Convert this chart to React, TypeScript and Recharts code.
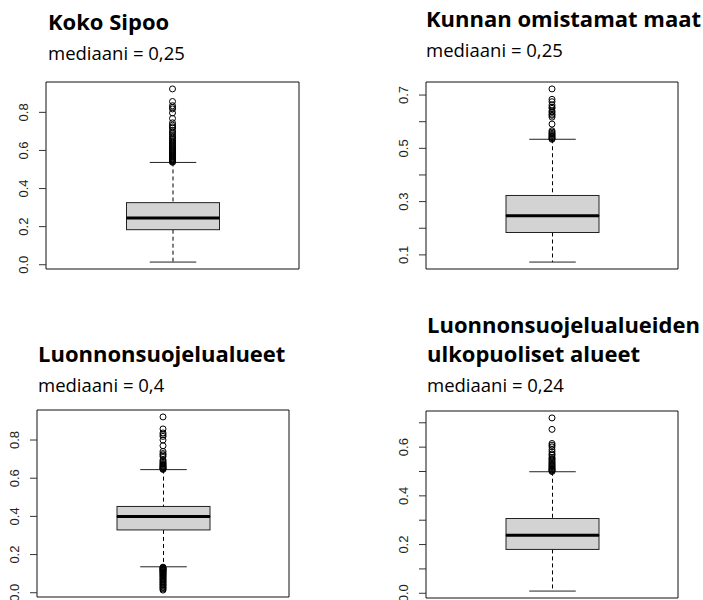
import React from "react";
import {
  Bar,
  ComposedChart,
  ReferenceArea,
  Scatter,
  XAxis,
  YAxis,
} from "recharts";

// panel texts
const titles = [
  ["Koko Sipoo"],
  ["Kunnan omistamat maat"],
  ["Luonnonsuojelualueet"],
  ["Luonnonsuojelualueiden", "ulkopuoliset alueet"],
];
const medianTexts = ["mediaani = 0,25", "mediaani = 0,25", "mediaani = 0,4", "mediaani = 0,24"];

// box statistics per panel
const lowerWhisker = [0.014, 0.073, 0.136, 0.009];
const lowerQuartile = [0.184, 0.184, 0.329, 0.18];
const medians = [0.246, 0.247, 0.399, 0.238];
const upperQuartile = [0.326, 0.323, 0.452, 0.307];
const upperWhisker = [0.537, 0.534, 0.645, 0.499];

// outliers per panel
const outliersKoko = [
  0.538, 0.541, 0.545, 0.548, 0.552, 0.556, 0.559, 0.563, 0.567, 0.571, 0.575,
  0.579, 0.583, 0.588, 0.592, 0.597, 0.601, 0.606, 0.611, 0.616, 0.621, 0.627,
  0.632, 0.638, 0.644, 0.65, 0.657, 0.664, 0.671, 0.679, 0.688, 0.697, 0.705,
  0.718, 0.724, 0.733, 0.745, 0.768, 0.797, 0.818, 0.826, 0.835, 0.857, 0.923,
];
const outliersKunta = [
  0.534, 0.537, 0.54, 0.544, 0.548, 0.552, 0.556, 0.561, 0.566, 0.591, 0.617,
  0.624, 0.628, 0.635, 0.64, 0.65, 0.655, 0.663, 0.675, 0.684, 0.723,
];
const outliersSuojelu = [
  0.646, 0.649, 0.652, 0.655, 0.659, 0.663, 0.667, 0.672, 0.677, 0.683, 0.689,
  0.696, 0.714, 0.722, 0.729, 0.74, 0.77, 0.8, 0.819, 0.828, 0.837, 0.858, 0.921,
  0.134, 0.131, 0.128, 0.126, 0.122, 0.119, 0.117, 0.113, 0.11, 0.106, 0.103,
  0.098, 0.095, 0.09, 0.086, 0.081, 0.075, 0.071, 0.066, 0.06, 0.056, 0.051,
  0.045, 0.041, 0.036, 0.03, 0.026, 0.02, 0.014,
];
const outliersMuut = [
  0.5, 0.503, 0.506, 0.509, 0.512, 0.516, 0.52, 0.524, 0.528, 0.533, 0.538,
  0.543, 0.548, 0.553, 0.558, 0.567, 0.572, 0.581, 0.59, 0.601, 0.608, 0.615,
  0.673, 0.72,
];
const outliers = [outliersKoko, outliersKunta, outliersSuojelu, outliersMuut];

// y axis ticks and which of them get a label
const yTicks = [
  [0, 0.2, 0.4, 0.6, 0.8],
  [0.1, 0.2, 0.3, 0.4, 0.5, 0.6, 0.7],
  [0, 0.2, 0.4, 0.6, 0.8],
  [0, 0.1, 0.2, 0.3, 0.4, 0.5, 0.6, 0.7],
];
const yTickLabels = [
  ["0.0", "0.2", "0.4", "0.6", "0.8"],
  ["0.1", "", "0.3", "", "0.5", "", "0.7"],
  ["0.0", "0.2", "0.4", "0.6", "0.8"],
  ["0.0", "", "0.2", "", "0.4", "", "0.6", ""],
];

// layout (frame of each plot region, title position)
const frames = [
  { left: 46, top: 82, w: 253, h: 187, tx: 48, ty: 30 },
  { left: 426, top: 82, w: 252, h: 187, tx: 426, ty: 27 },
  { left: 37, top: 410, w: 252, h: 187, tx: 38, ty: 362 },
  { left: 426, top: 411, w: 252, h: 187, tx: 427, ty: 333 },
];

const AXIS_W = 36;
const PAD = 8;
const BOX_W = 93;

const Empty = () => <g />;

const LowerWhisker = (p: any) => {
  const cx = p.x + p.width / 2;
  return (
    <g>
      <line x1={cx} x2={cx} y1={p.y} y2={p.y + p.height} stroke="#000" strokeDasharray="4 3" />
      <line x1={p.x + p.width / 4} x2={p.x + (p.width * 3) / 4} y1={p.y + p.height} y2={p.y + p.height} stroke="#222" />
    </g>
  );
};

const UpperWhisker = (p: any) => {
  const cx = p.x + p.width / 2;
  return (
    <g>
      <line x1={cx} x2={cx} y1={p.y} y2={p.y + p.height} stroke="#000" strokeDasharray="4 3" />
      <line x1={p.x + p.width / 4} x2={p.x + (p.width * 3) / 4} y1={p.y} y2={p.y} stroke="#222" />
    </g>
  );
};

const BoxPart = (p: any) => (
  <rect x={p.x} y={p.y} width={p.width} height={p.height} fill="#d3d3d3" stroke="#222" strokeWidth={1} />
);

const BoxUpper = (p: any) => (
  <g>
    <rect x={p.x} y={p.y} width={p.width} height={p.height} fill="#d3d3d3" stroke="#222" strokeWidth={1} />
    <line x1={p.x} x2={p.x + p.width} y1={p.y + p.height} y2={p.y + p.height} stroke="#000" strokeWidth={3} />
  </g>
);

const Outlier = (p: any) => (
  <circle cx={p.cx} cy={p.cy} r={3} fill="none" stroke="#000" strokeWidth={1} />
);

function BoxPanel({ i }: { i: number }) {
  const f = frames[i];
  const row = [
    {
      x: 1,
      base: lowerWhisker[i],
      lowW: lowerQuartile[i] - lowerWhisker[i],
      boxLo: medians[i] - lowerQuartile[i],
      boxHi: upperQuartile[i] - medians[i],
      highW: upperWhisker[i] - upperQuartile[i],
    },
  ];
  const pts = outliers[i].map((v) => ({ x: 1, y: v }));
  const all = [lowerWhisker[i], upperWhisker[i], ...outliers[i]];
  const lo = Math.min(...all);
  const hi = Math.max(...all);
  const ext = (hi - lo) * 0.04;
  const yMin = lo - ext;
  const yMax = hi + ext;
  const labels = yTickLabels[i];
  const ticks = yTicks[i];

  const Tick = (p: any) => {
    const idx = ticks.findIndex((t) => Math.abs(t - p.payload.value) < 1e-9);
    const label = idx >= 0 ? labels[idx] : "";
    return (
      <text
        x={p.x}
        y={p.y}
        transform={`rotate(-90, ${p.x}, ${p.y})`}
        textAnchor="middle"
        fontSize={13}
        fontFamily="'Liberation Sans', Arial, sans-serif"
        fill="#222"
      >
        {label}
      </text>
    );
  };

  return (
    <div
      style={{
        position: "absolute",
        left: f.left - AXIS_W,
        top: f.top - PAD,
      }}
    >
      <ComposedChart
        width={f.w + AXIS_W + PAD}
        height={f.h + PAD * 2}
        data={row}
        margin={{ top: PAD, right: PAD, bottom: PAD, left: 0 }}
      >
        <XAxis dataKey="x" type="number" domain={[0, 2]} ticks={[0, 1, 2]} allowDataOverflow hide />
        <YAxis
          type="number"
          domain={[yMin, yMax]}
          allowDataOverflow
          ticks={ticks}
          interval={0}
          width={AXIS_W}
          axisLine={false}
          tickSize={7}
          tickMargin={11}
          tickLine={{ stroke: "#333" }}
          tick={<Tick />}
        />
        <Bar dataKey="base" stackId="b" barSize={BOX_W} shape={<Empty />} isAnimationActive={false} />
        <Bar dataKey="lowW" stackId="b" barSize={BOX_W} shape={<LowerWhisker />} isAnimationActive={false} />
        <Bar dataKey="boxLo" stackId="b" barSize={BOX_W} shape={<BoxPart />} isAnimationActive={false} />
        <Bar dataKey="boxHi" stackId="b" barSize={BOX_W} shape={<BoxUpper />} isAnimationActive={false} />
        <Bar dataKey="highW" stackId="b" barSize={BOX_W} shape={<UpperWhisker />} isAnimationActive={false} />
        <Scatter data={pts} dataKey="y" shape={<Outlier />} isAnimationActive={false} />
        <ReferenceArea
          x1={0}
          x2={2}
          y1={yMin}
          y2={yMax}
          fill="none"
          fillOpacity={0}
          stroke="#111"
          strokeWidth={1}
          ifOverflow="visible"
        />
      </ComposedChart>
    </div>
  );
}

export default function App() {
  return (
    <div
      style={{
        position: "absolute",
        left: 0,
        top: 0,
        width: 703,
        height: 600,
        background: "#fff",
        overflow: "hidden",
      }}
    >
      <svg width={703} height={600} style={{ position: "absolute", left: 0, top: 0 }}>
        {frames.map((f, i) => (
          <g key={i} fontFamily="'Open Sans', sans-serif" fill="#000">
            {titles[i].map((t, k) => (
              <text key={t} x={f.tx} y={f.ty + k * 29} fontSize={22} fontWeight={700}>
                {t}
              </text>
            ))}
            <text x={f.tx} y={f.ty + titles[i].length * 29 + 1} fontSize={18.5}>
              {medianTexts[i]}
            </text>
          </g>
        ))}
      </svg>
      {frames.map((_, i) => (
        <BoxPanel key={i} i={i} />
      ))}
    </div>
  );
}
